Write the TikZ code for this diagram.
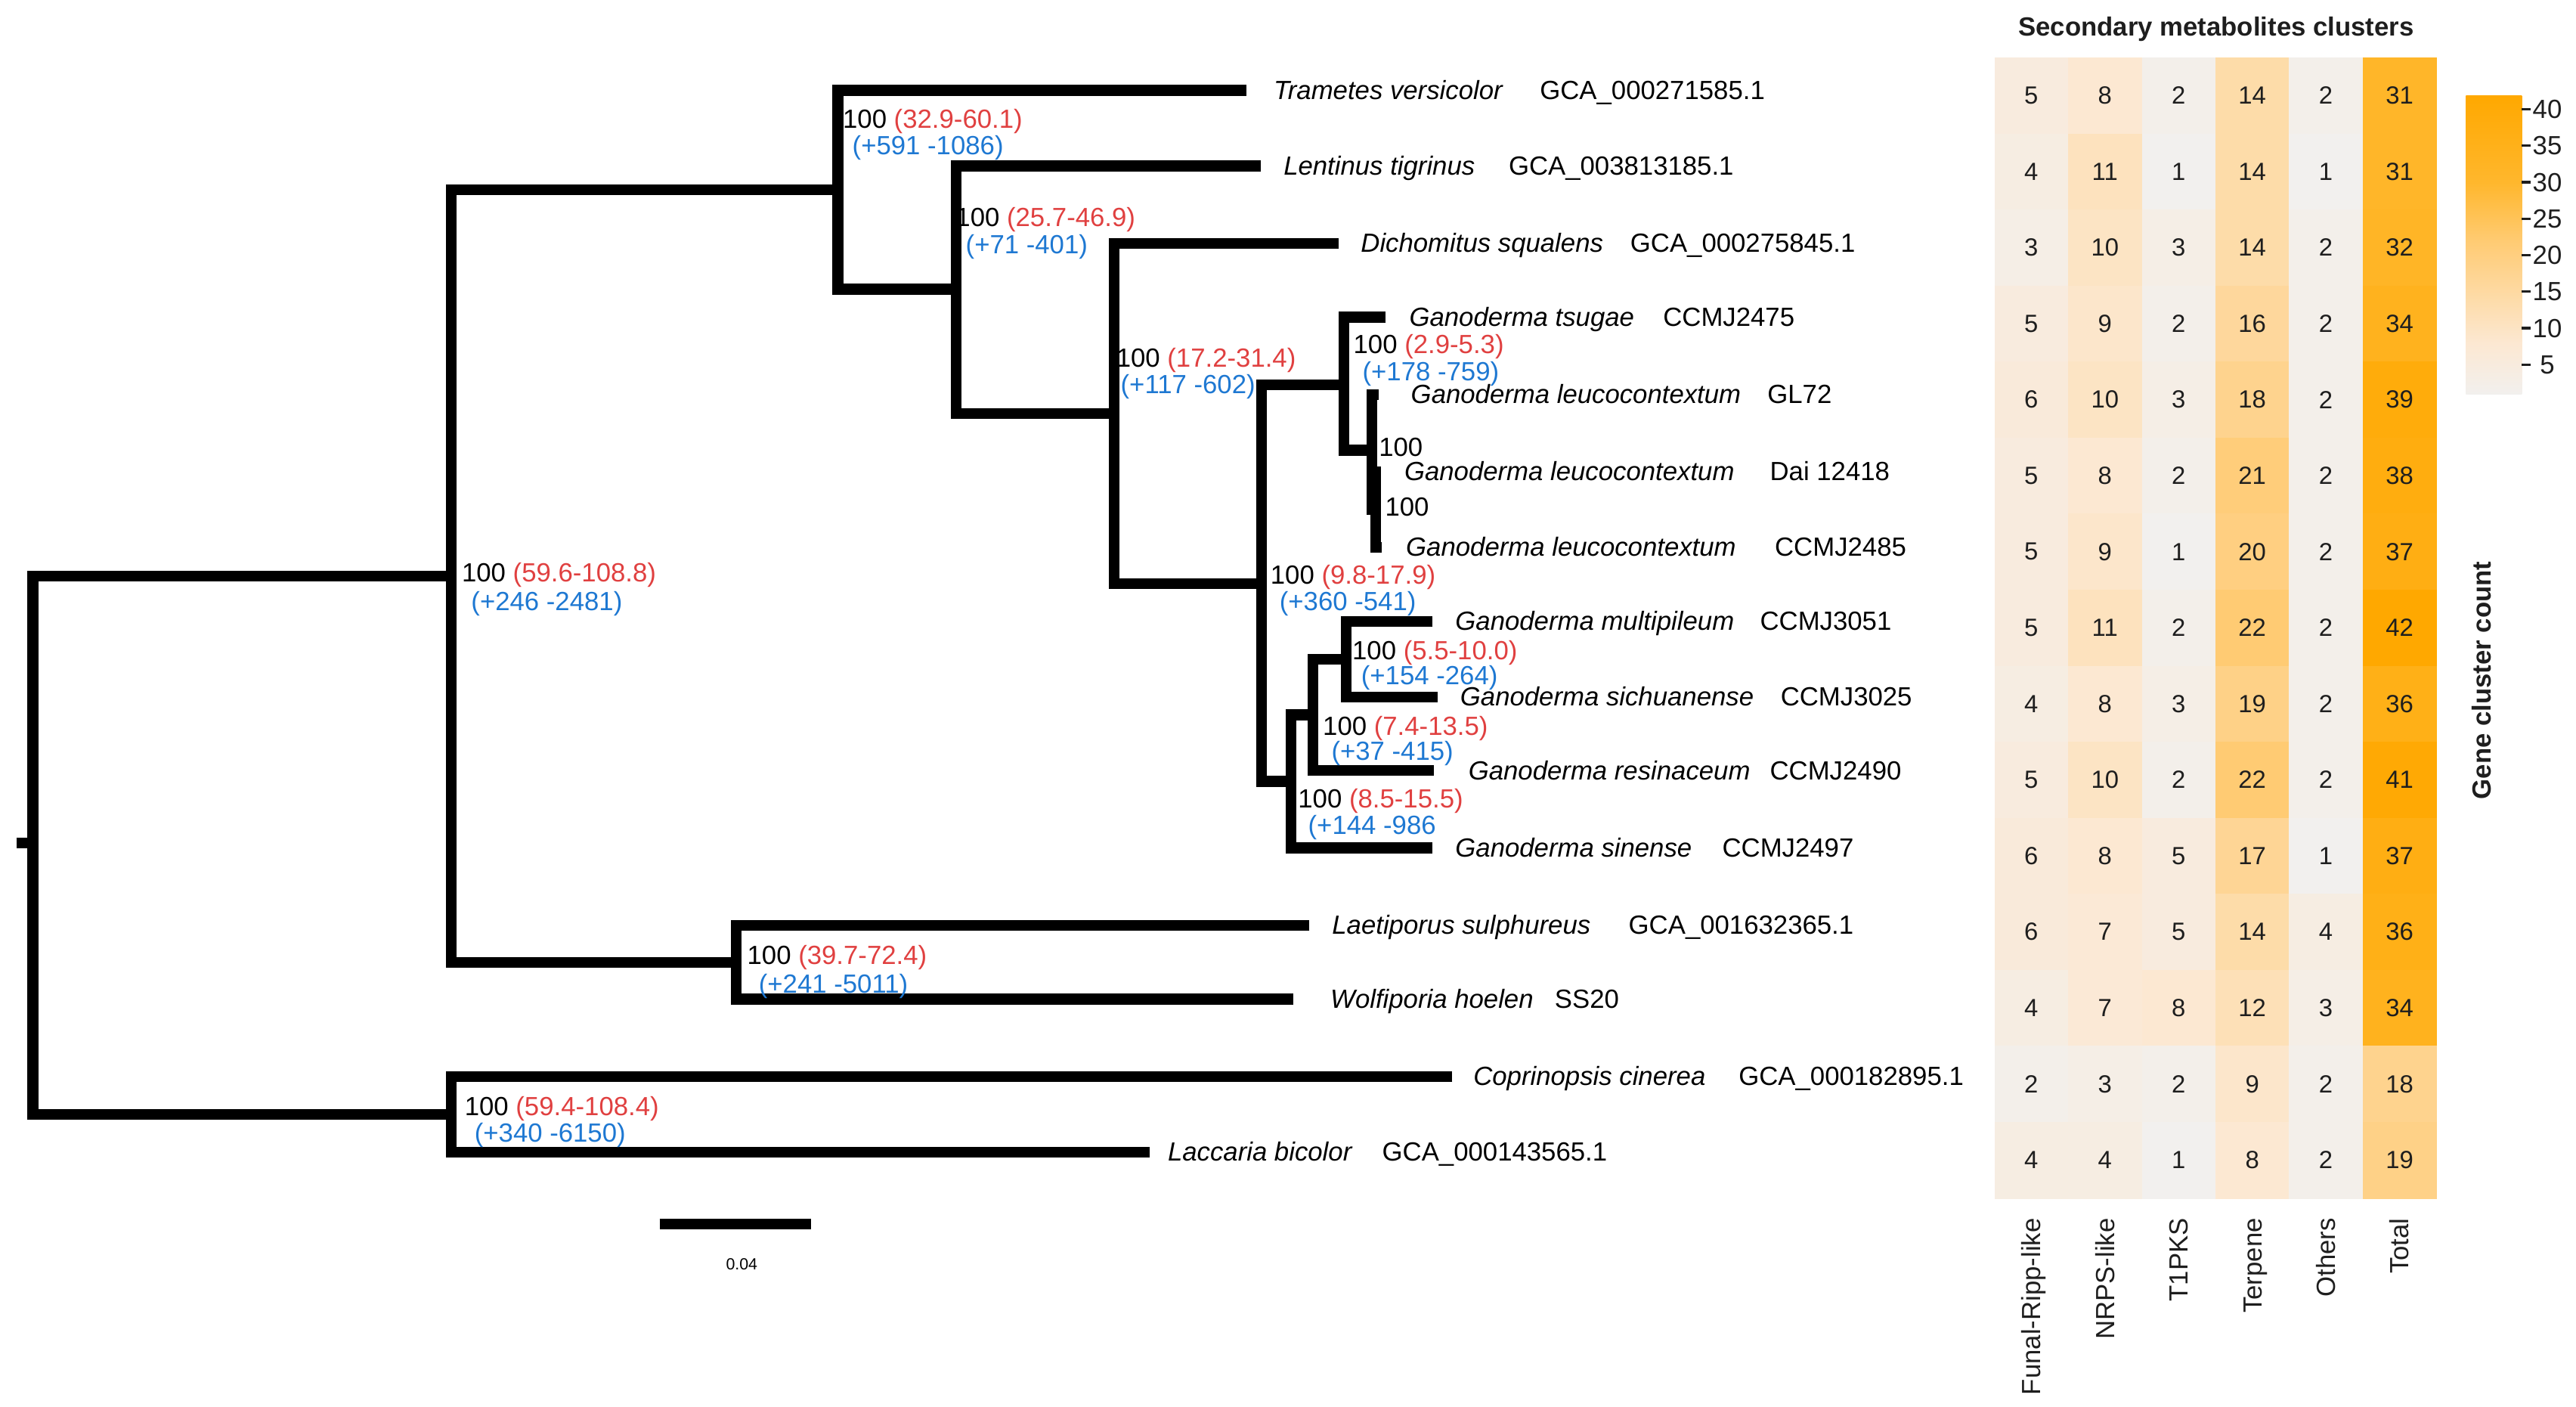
\documentclass[tikz,border=0pt]{standalone}
\usepackage{fontspec}
\setmainfont{Liberation Sans}
\definecolor{bsred}{RGB}{224,64,64}
\definecolor{bsblue}{RGB}{30,120,210}
\definecolor{txt}{RGB}{30,30,30}
\definecolor{hcA}{RGB}{242,240,238}
\definecolor{hcB}{RGB}{252,232,210}
\definecolor{hcC}{RGB}{255,203,115}
\definecolor{hcD}{RGB}{255,183,45}
\definecolor{hcE}{RGB}{255,168,0}
\pgfdeclareverticalshading{heatbar}{100bp}{color(0bp)=(hcA); color(25bp)=(hcA); color(33.54bp)=(hcB); color(50.61bp)=(hcC); color(60.37bp)=(hcD); color(75bp)=(hcE); color(100bp)=(hcE)}
\newcommand\setheat[1]{%
  \pgfmathtruncatemacro\hr{242+10*min(1,(#1-1)/7)+3*max(0,min(1,(#1-8)/14))+0.5}%
  \pgfmathtruncatemacro\hg{240-8*min(1,(#1-1)/7)-29*max(0,min(1,(#1-8)/14))-20*max(0,min(1,(#1-22)/8))-15*max(0,(#1-30)/12)+0.5}%
  \pgfmathtruncatemacro\hb{238-28*min(1,(#1-1)/7)-95*max(0,min(1,(#1-8)/14))-70*max(0,min(1,(#1-22)/8))-45*max(0,(#1-30)/12)+0.5}%
  \definecolor{heat}{RGB}{\hr,\hg,\hb}}
\newcommand\fs{\fontsize{9.1}{11}\selectfont}
\newcommand\bslab[7]{%
  \node[bs] (#1a) at ({#2-1.5},{#3+5.7}) {100 \textcolor{bsred}{(#6)}};
  \node[bs,text=bsblue] (#1b) at ({#4-1.5},{#5+5.7}) {#7};}
\begin{document}
\begin{tikzpicture}[x=0.02cm,y=-0.02cm,
  branch/.style={line width=0.13cm, line join=miter, line cap=butt, black},
  sp/.style={anchor=base west, inner sep=0, font=\fs\itshape},
  acc/.style={anchor=base west, inner sep=0, font=\fs},
  bs/.style={anchor=base west, inner sep=0, font=\fs},
  cellnum/.style={inner sep=0, anchor=center, text=txt, font=\fontsize{8.6}{10}\selectfont},
  collab/.style={inner sep=0, rotate=90, anchor=base east, text=txt, font=\fs},
  ticklab/.style={inner sep=0, anchor=center, text=txt, font=\fs}]
\useasboundingbox (0,0) rectangle (1568,856);

% ---------- tips ----------
\foreach \n/\tx/\ty/\sx/\spn/\ax/\acn in {
  t1/758.5/55/775/Trametes versicolor/937/GCA\_000271585.1,
  t2/767.5/101/781/Lentinus tigrinus/918/GCA\_003813185.1,
  t3/815/148/828/Dichomitus squalens/992/GCA\_000275845.1,
  t4/843.5/193/857.5/Ganoderma tsugae/1012/CCMJ2475,
  t5/839/240/858.5/Ganoderma leucocontextum/1075.5/GL72,
  t6/840.5/287/854.5/Ganoderma leucocontextum/1077/Dai 12418,
  t7/841/333/855.5/Ganoderma leucocontextum/1080/CCMJ2485,
  t8/872/378/885.5/Ganoderma multipileum/1071/CCMJ3051,
  t9/875/424/888.5/Ganoderma sichuanense/1083.5/CCMJ3025,
  t10/873/469/893.5/Ganoderma resinaceum/1077/CCMJ2490,
  t11/872/516/885.5/Ganoderma sinense/1048/CCMJ2497,
  t12/797/563/810.5/Laetiporus sulphureus/991/GCA\_001632365.1,
  t13/787/608/809.5/Wolfiporia hoelen/946/SS20,
  t14/884/655/896.5/Coprinopsis cinerea/1058/GCA\_000182895.1,
  t15/700/701/710.5/Laccaria bicolor/841/GCA\_000143565.1}{
  \coordinate (\n) at (\tx,\ty);
  \node[sp] (\n-sp) at (\sx,\ty+5.5) {\spn};
  \node[acc] (\n-acc) at (\ax,\ty+5.5) {\acn};
}

% ---------- internal nodes ----------
\coordinate (stub) at (10,513);
\coordinate (nR) at (20,513);
\coordinate (nA) at (274.5,350.5);
\coordinate (nB) at (274.5,678);
\coordinate (nC) at (510,115.5);
\coordinate (nD) at (448,585.5);
\coordinate (nE) at (582,176);
\coordinate (nF) at (678,251.5);
\coordinate (nG) at (768,355);
\coordinate (nH) at (818,234);
\coordinate (nI) at (835,274);
\coordinate (nJ) at (837.5,310);
\coordinate (nK) at (786,475.5);
\coordinate (nL) at (799,435);
\coordinate (nM) at (819.5,401);

\draw[branch] (stub) -- (nR);
\draw[branch] (nA) -| (nR) |- (nB);
\draw[branch] (nC) -| (nA) |- (nD);
\draw[branch] (t14) -| (nB) |- (t15);
\draw[branch] (t1) -| (nC) |- (nE);
\draw[branch] (t2) -| (nE) |- (nF);
\draw[branch] (t3) -| (nF) |- (nG);
\draw[branch] (nH) -| (nG) |- (nK);
\draw[branch] (t4) -| (nH) |- (nI);
\draw[branch] (t5) -| (nI) |- (nJ);
\draw[branch] (t6) -| (nJ) |- (t7);
\draw[branch] (nL) -| (nK) |- (t11);
\draw[branch] (nM) -| (nL) |- (t10);
\draw[branch] (t8) -| (nM) |- (t9);
\draw[branch] (t12) -| (nD) |- (t13);

% ---------- node labels ----------
\bslab{lA}{282.3}{348.5}{288}{365.6}{59.6-108.8}{(+246 -2481)}
\bslab{lB}{284}{673.3}{290}{689.2}{59.4-108.4}{(+340 -6150)}
\bslab{lC}{514.2}{72.1}{520}{88.2}{32.9-60.1}{(+591 -1086)}
\bslab{lE}{582.9}{131.9}{589}{148.7}{25.7-46.9}{(+71 -401)}
\bslab{lF}{680.6}{217.7}{683.3}{233.9}{17.2-31.4}{(+117 -602)}
\bslab{lD}{456}{581}{463}{598.7}{39.7-72.4}{(+241 -5011)}
\bslab{lG}{774.5}{349.7}{780}{365.8}{9.8-17.9}{(+360 -541)}
\bslab{lH}{825}{209.5}{830.5}{226}{2.9-5.3}{(+178 -759)}
\bslab{lM}{824.3}{395.7}{829.7}{411}{5.5-10.0}{(+154 -264)}
\bslab{lL}{806.4}{441.7}{811.6}{457}{7.4-13.5}{(+37 -415)}
\bslab{lK}{791.3}{486}{797.4}{502}{8.5-15.5}{(+144 -986}
\node[bs] (lI) at (839,277.7) {100};
\node[bs] (lJ) at (842.8,314) {100};

% ---------- scale bar ----------
\coordinate (sb1) at (401.5,745);
\coordinate (sb2) at (493.5,745);
\draw[branch] (sb1) -- (sb2);
\node[inner sep=0, anchor=base, font=\fontsize{5.6}{6}\selectfont] (sblab) at (451.5,772.5) {0.04};

% ---------- heatmap ----------
\node[inner sep=0, anchor=base, text=txt, font=\fs\bfseries] (title) at (1349,21.7) {Secondary metabolites clusters};
\foreach \row [count=\r from 0] in {
  {5,8,2,14,2,31},{4,11,1,14,1,31},{3,10,3,14,2,32},{5,9,2,16,2,34},
  {6,10,3,18,2,39},{5,8,2,21,2,38},{5,9,1,20,2,37},{5,11,2,22,2,42},
  {4,8,3,19,2,36},{5,10,2,22,2,41},{6,8,5,17,1,37},{6,7,5,14,4,36},
  {4,7,8,12,3,34},{2,3,2,9,2,18},{4,4,1,8,2,19}}{
  \foreach \v [count=\c from 0] in \row {
    \setheat{\v}
    \fill[heat] ({1214+44.83*\c},{35+46.27*\r}) rectangle ++(45.3,46.7);
  }
}
\foreach \row [count=\r from 0] in {
  {5,8,2,14,2,31},{4,11,1,14,1,31},{3,10,3,14,2,32},{5,9,2,16,2,34},
  {6,10,3,18,2,39},{5,8,2,21,2,38},{5,9,1,20,2,37},{5,11,2,22,2,42},
  {4,8,3,19,2,36},{5,10,2,22,2,41},{6,8,5,17,1,37},{6,7,5,14,4,36},
  {4,7,8,12,3,34},{2,3,2,9,2,18},{4,4,1,8,2,19}}{
  \foreach \v [count=\c from 0] in \row {
    \node[cellnum] (h-\r-\c) at ({1214+44.83*(\c+0.5)},{35+46.27*(\r+0.5)}) {\v};
  }
}
\foreach \lab [count=\c from 0] in {Funal-Ripp-like,NRPS-like,T1PKS,Terpene,Others,Total}{
  \node[collab] (col\c) at ({1214+44.83*(\c+0.5)+5.7},741) {\lab};
}

% ---------- colour bar ----------
\shade[shading=heatbar] (1501,58) rectangle (1535,240);
\foreach \t in {5,10,...,40}{
  \draw[txt, line width=0.03cm] (1535,{239.7-(\t-1)*4.441}) -- (1540.5,{239.7-(\t-1)*4.441});
  \node[ticklab] (tick\t) at (1550.5,{239.7-(\t-1)*4.441}) {\t};
}
\node[inner sep=0, rotate=90, anchor=base, text=txt, font=\fs\bfseries] (cbtitle) at (1516.2,414) {Gene cluster count};
\end{tikzpicture}
\end{document}
